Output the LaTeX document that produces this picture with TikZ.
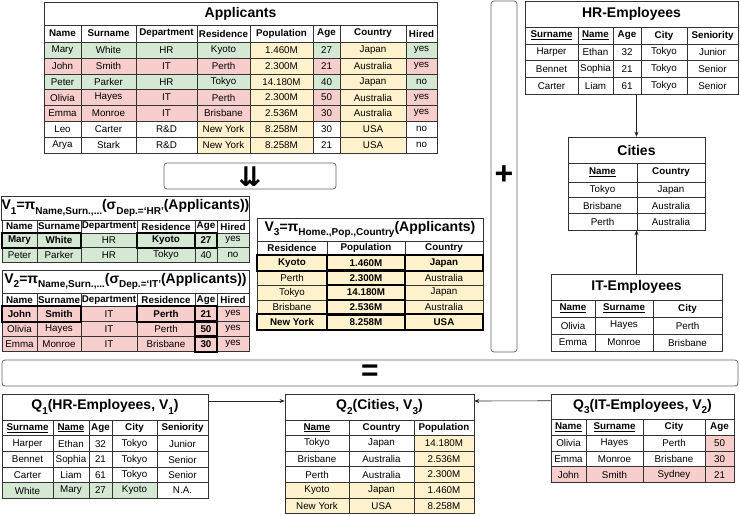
\documentclass[tikz,border=0pt]{standalone}
\usepackage{fontspec}
\setmainfont{Liberation Sans}
\newfontfamily\djv{DejaVu Sans}
\usetikzlibrary{arrows.meta}
\definecolor{cg}{HTML}{D5E8D4}
\definecolor{cr}{HTML}{F8CECC}
\definecolor{cy}{HTML}{FFF2CC}
\definecolor{cw}{HTML}{FFFFFF}
\definecolor{lc}{HTML}{333333}
\newcommand\sbs[1]{\raisebox{-0.3em}{\fontsize{10}{10}\selectfont #1}}
\tikzset{
 cellbox/.style={draw=lc, line width=0.5pt, inner sep=0pt, font=\fontsize{9.8}{10}\selectfont},
 hdr/.style={font=\fontsize{9.8}{10}\selectfont\bfseries},
 ttl/.style={draw=lc, line width=0.6pt, fill=white, inner sep=0pt, font=\fontsize{14}{15}\selectfont\bfseries},
 thickbox/.style={draw=black, line width=2.4pt},
 bigbox/.style={draw=black!60, line width=0.8pt, rounded corners=3pt, fill=white, inner sep=0pt},
 arr/.style={draw=black!85, line width=0.6pt, -{Stealth[length=5pt,width=4pt]}}
}
% row of cells: [opts]{prefix}{y1}{y2}{x1/x2/fill/text,...}
\newcommand\trow[5][]{%
 \foreach \xa/\xb/\cf/\ct [count=\ci] in {#5} {%
  \node[cellbox,#1,fill=\cf,minimum width={(\xb-\xa)*1pt},minimum height={(#4-#3)*1pt}] (#2-\ci) at ({(\xa+\xb)/2},{(#3+#4)/2}) {\ct};
 }}
% box node: [style]{name}{x1}{x2}{y1}{y2}{text}
\newcommand\tbox[7][ttl]{%
 \node[#1,minimum width={(#4-#3)*1pt},minimum height={(#6-#5)*1pt}] (#2) at ({(#3+#4)/2},{(#5+#6)/2}) {#7};}
\begin{document}
\begin{tikzpicture}[x=1pt,y=-1pt]
\useasboundingbox[fill=white] (0,0) rectangle (740,515);

% ---------------- Applicants
\tbox{appT}{44}{437}{2}{25}{Applicants}
\trow[hdr]{appH}{25}{42}{44/81/cw/Name,81/136/cw/Surname,136/197/cw/Department,197/250/cw/Residence,250/313/cw/Population,313/340/cw/Age,340/406/cw/Country,406/437/cw/Hired}
\trow{appA}{42}{58}{44/81/cg/Mary,81/136/cg/White,136/197/cg/HR,197/250/cg/Kyoto,250/313/cy/1.460M,313/340/cg/27,340/406/cy/Japan,406/437/cg/yes}
\trow{appB}{58}{74}{44/81/cr/John,81/136/cr/Smith,136/197/cr/IT,197/250/cr/Perth,250/313/cy/2.300M,313/340/cr/21,340/406/cy/Australia,406/437/cr/yes}
\trow{appC}{74}{89.5}{44/81/cg/Peter,81/136/cg/Parker,136/197/cg/HR,197/250/cg/Tokyo,250/313/cy/14.180M,313/340/cg/40,340/406/cy/Japan,406/437/cg/no}
\trow{appD}{89.5}{105.5}{44/81/cr/Olivia,81/136/cr/Hayes,136/197/cr/IT,197/250/cr/Perth,250/313/cy/2.300M,313/340/cr/50,340/406/cy/Australia,406/437/cr/yes}
\trow{appE}{105.5}{121}{44/81/cr/Emma,81/136/cr/Monroe,136/197/cr/IT,197/250/cr/Brisbane,250/313/cy/2.536M,313/340/cr/30,340/406/cy/Australia,406/437/cr/yes}
\trow{appF}{121}{137}{44/81/cw/Leo,81/136/cw/Carter,136/197/cw/R\&D,197/250/cy/New York,250/313/cy/8.258M,313/340/cw/30,340/406/cy/USA,406/437/cw/no}
\trow{appG}{137}{153}{44/81/cw/Arya,81/136/cw/Stark,136/197/cw/R\&D,197/250/cy/New York,250/313/cy/8.258M,313/340/cw/21,340/406/cy/USA,406/437/cw/no}

% ---------------- down arrows box
\tbox[bigbox]{dn}{164}{336}{163}{189}{}
\node[font=\djv\fontsize{27}{27}\selectfont\bfseries, inner sep=0pt] (dnS) at (250,176.5) {⇊};

% ---------------- V1
\tbox{v1T}{2}{249}{196}{220}{V\sbs{1}=π\sbs{Name,Surn.,...}(σ\sbs{Dep.=`HR'}(Applicants))}
\trow[hdr]{v1H}{220}{233}{2/37/cw/Name,37/81/cw/Surname,81/137/cw/Department,137/195/cw/Residence,195/217/cw/Age,217/249/cw/Hired}
\trow{v1A}{233}{247.5}{2/37/cg/\textbf{Mary},37/81/cg/\textbf{White},81/137/cg/HR,137/195/cg/\textbf{Kyoto},195/217/cg/\textbf{27},217/249/cg/yes}
\trow{v1B}{247.5}{262}{2/37/cg/Peter,37/81/cg/Parker,81/137/cg/HR,137/195/cg/Tokyo,195/217/cg/40,217/249/cg/no}
\draw[thickbox] (v1A-1.north west) rectangle (v1A-2.south east);
\draw[thickbox] (v1A-4.north west) rectangle (v1A-4.south east);
\draw[thickbox] (v1A-5.north west) rectangle (v1A-5.south east);

% ---------------- V2
\tbox{v2T}{2}{249}{270}{293}{V\sbs{2}=π\sbs{Name,Surn.,...}(σ\sbs{Dep.=`IT'}(Applicants))}
\trow[hdr]{v2H}{293}{306.5}{2/37/cw/Name,37/81/cw/Surname,81/137/cw/Department,137/195/cw/Residence,195/217/cw/Age,217/249/cw/Hired}
\trow{v2A}{306.5}{321.5}{2/37/cr/\textbf{John},37/81/cr/\textbf{Smith},81/137/cr/IT,137/195/cr/\textbf{Perth},195/217/cr/\textbf{21},217/249/cr/yes}
\trow{v2B}{321.5}{336.5}{2/37/cr/Olivia,37/81/cr/Hayes,81/137/cr/IT,137/195/cr/Perth,195/217/cr/\textbf{50},217/249/cr/yes}
\trow{v2C}{336.5}{351.5}{2/37/cr/Emma,37/81/cr/Monroe,81/137/cr/IT,137/195/cr/Brisbane,195/217/cr/\textbf{30},217/249/cr/yes}
\draw[thickbox] (v2A-1.north west) rectangle (v2A-2.south east);
\draw[thickbox] (v2A-4.north west) rectangle (v2A-4.south east);
\draw[thickbox] (v2A-5.north west) rectangle (v2A-5.south east);
\draw[thickbox] (v2B-5.north west) rectangle (v2B-5.south east);
\draw[thickbox] (v2C-5.north west) rectangle (v2C-5.south east);

% ---------------- V3
\tbox{v3T}{257}{483}{218}{241}{V\sbs{3}=π\sbs{Home.,Pop.,Country}(Applicants)}
\trow[hdr]{v3H}{241}{255}{257/327/cw/Residence,327/405/cw/Population,405/483/cw/Country}
\trow{v3A}{255}{270.5}{257/327/cy/\textbf{Kyoto},327/405/cy/\textbf{1.460M},405/483/cy/\textbf{Japan}}
\trow{v3B}{270.5}{285}{257/327/cy/Perth,327/405/cy/\textbf{2.300M},405/483/cy/Australia}
\trow{v3C}{285}{300}{257/327/cy/Tokyo,327/405/cy/\textbf{14.180M},405/483/cy/Japan}
\trow{v3D}{300}{314.5}{257/327/cy/Brisbane,327/405/cy/\textbf{2.536M},405/483/cy/Australia}
\trow{v3E}{314.5}{330}{257/327/cy/\textbf{New York},327/405/cy/\textbf{8.258M},405/483/cy/\textbf{USA}}
\foreach \c in {v3A-1,v3A-2,v3A-3,v3B-2,v3C-2,v3D-2,v3E-1,v3E-2,v3E-3}
  \draw[thickbox] (\c.north west) rectangle (\c.south east);

% ---------------- plus box
\tbox[bigbox]{plus}{491}{517}{1}{352}{}
\node[font=\fontsize{32}{32}\selectfont\bfseries, inner sep=0pt] (plusS) at (504,175) {+};

% ---------------- HR-Employees
\tbox{hrT}{525}{738}{1}{27}{HR-Employees}
\trow[hdr]{hrH}{27}{44}{525/578/cw/\underline{Surname},578/613/cw/\underline{Name},613/641/cw/Age,641/687/cw/City,687/738/cw/Seniority}
\trow{hrA}{44}{60.7}{525/578/cw/Harper,578/613/cw/Ethan,613/641/cw/32,641/687/cw/Tokyo,687/738/cw/Junior}
\trow{hrB}{60.7}{77.3}{525/578/cw/Bennet,578/613/cw/Sophia,613/641/cw/21,641/687/cw/Tokyo,687/738/cw/Senior}
\trow{hrC}{77.3}{94}{525/578/cw/Carter,578/613/cw/Liam,613/641/cw/61,641/687/cw/Tokyo,687/738/cw/Senior}

% ---------------- Cities
\tbox{citT}{568}{705}{137}{163}{Cities}
\trow[hdr]{citH}{163}{182}{568/637/cw/\underline{Name},637/705/cw/Country}
\trow{citA}{182}{197.5}{568/637/cw/Tokyo,637/705/cw/Japan}
\trow{citB}{197.5}{213.5}{568/637/cw/Brisbane,637/705/cw/Australia}
\trow{citC}{213.5}{230}{568/637/cw/Perth,637/705/cw/Australia}

% ---------------- IT-Employees
\tbox{itT}{551}{722}{274}{300}{IT-Employees}
\trow[hdr]{itH}{300}{317}{551/595/cw/\underline{Name},595/653/cw/\underline{Surname},653/722/cw/City}
\trow{itA}{317}{334}{551/595/cw/Olivia,595/653/cw/Hayes,653/722/cw/Perth}
\trow{itB}{334}{351}{551/595/cw/Emma,595/653/cw/Monroe,653/722/cw/Brisbane}

\draw[arr] (hrC-4.south -| citT.north) -- (citT.north);
\draw[arr] (itT.north) -- (itT.north |- citC-1.south);

% ---------------- equals box
\tbox[bigbox]{eqB}{2}{738}{360}{386}{}
\node[font=\fontsize{30}{30}\selectfont\bfseries, inner sep=0pt] (eqS) at (370,373) {=};

% ---------------- Q1
\tbox{q1T}{2}{208}{394}{420}{Q\sbs{1}(HR-Employees, V\sbs{1})}
\trow[hdr]{q1H}{420}{435.7}{2/53/cw/\underline{Surname},53/89/cw/\underline{Name},89/112/cw/Age,112/157/cw/City,157/208/cw/Seniority}
\trow{q1A}{435.7}{451.7}{2/53/cw/Harper,53/89/cw/Ethan,89/112/cw/32,112/157/cw/Tokyo,157/208/cw/Junior}
\trow{q1B}{451.7}{467.3}{2/53/cw/Bennet,53/89/cw/Sophia,89/112/cw/21,112/157/cw/Tokyo,157/208/cw/Senior}
\trow{q1C}{467.3}{482.7}{2/53/cw/Carter,53/89/cw/Liam,89/112/cw/61,112/157/cw/Tokyo,157/208/cw/Senior}
\trow{q1D}{482.7}{498.3}{2/53/cg/White,53/89/cg/Mary,89/112/cg/27,112/157/cg/Kyoto,157/208/cw/N.A.}

% ---------------- Q2
\tbox{q2T}{285}{474}{394}{420}{Q\sbs{2}(Cities, V\sbs{3})}
\trow[hdr]{q2H}{420}{435.7}{285/349/cw/\underline{Name},349/414/cw/Country,414/474/cw/Population}
\trow{q2A}{435.7}{451}{285/349/cw/Tokyo,349/414/cw/Japan,414/474/cy/14.180M}
\trow{q2B}{451}{466.7}{285/349/cw/Brisbane,349/414/cw/Australia,414/474/cy/2.536M}
\trow{q2C}{466.7}{482.3}{285/349/cw/Perth,349/414/cw/Australia,414/474/cy/2.300M}
\trow{q2D}{482.3}{498}{285/349/cy/Kyoto,349/414/cy/Japan,414/474/cy/1.460M}
\trow{q2E}{498}{513.5}{285/349/cy/New York,349/414/cy/USA,414/474/cy/8.258M}

% ---------------- Q3
\tbox{q3T}{551}{734}{394}{419.5}{Q\sbs{3}(IT-Employees, V\sbs{2})}
\trow[hdr]{q3H}{419.5}{435}{551/586/cw/\underline{Name},586/643/cw/\underline{Surname},643/705/cw/City,705/734/cw/Age}
\trow{q3A}{435}{451}{551/586/cw/Olivia,586/643/cw/Hayes,643/705/cw/Perth,705/734/cr/50}
\trow{q3B}{451}{466.7}{551/586/cw/Emma,586/643/cw/Monroe,643/705/cw/Brisbane,705/734/cr/30}
\trow{q3C}{466.7}{482.7}{551/586/cr/John,586/643/cr/Smith,643/705/cr/Sydney,705/734/cr/21}

\draw[arr] ([yshift=6pt]q1T.east) -- ([yshift=6pt]q2T.west);
\draw[arr] ([yshift=6pt]q3T.west) -- ([yshift=6pt]q2T.east);
\end{tikzpicture}
\end{document}
